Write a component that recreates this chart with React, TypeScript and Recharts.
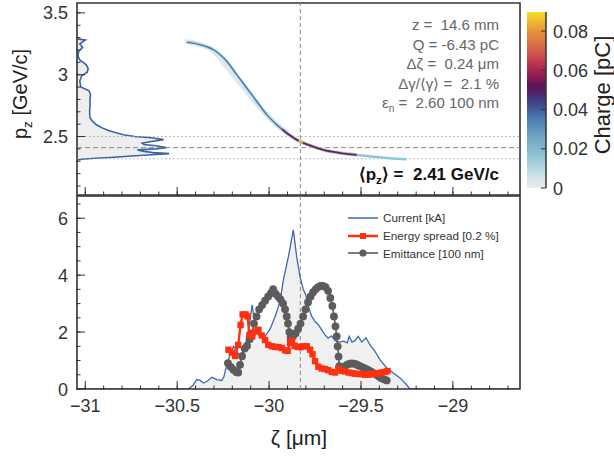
import React from 'react';
import { ComposedChart, Area, Line, XAxis, YAxis, ReferenceLine, ReferenceArea } from 'recharts';

// ---------- axis ranges ----------
const Z_MIN = -31.045;
const Z_MAX = -28.635;
const PZ_MIN = 2.027;
const PZ_MAX = 3.58;
const I_MAX = 6.78;
const Q_MAX = 0.0897;
const PROJ_MAX = 4.76;

// ---------- ticks ----------
const zTicks = [-31, -30.9, -30.8, -30.7, -30.6, -30.5, -30.4, -30.3, -30.2, -30.1, -30, -29.9, -29.8, -29.7, -29.6, -29.5, -29.4, -29.3, -29.2, -29.1, -29, -28.9, -28.8, -28.7];
const zMajor = [-31, -30.5, -30, -29.5, -29];
const pzTicks = [2.1, 2.2, 2.3, 2.4, 2.5, 2.6, 2.7, 2.8, 2.9, 3, 3.1, 3.2, 3.3, 3.4, 3.5];
const pzMajor = [2.5, 3, 3.5];
const iTicks = [0, 0.5, 1, 1.5, 2, 2.5, 3, 3.5, 4, 4.5, 5, 5.5, 6, 6.5];
const iMajor = [0, 2, 4, 6];
const qTicks = [0, 0.02, 0.04, 0.06, 0.08];

// ---------- markers ----------
const zMarker = -29.83;
const meanPz = 2.41;
const pzBandHigh = 2.5;
const pzBandLow = 2.32;

// ---------- top panel: longitudinal phase space ----------
const phaseHalo: [number, number][] = [
  [-30.46, 3.27], [-30.38, 3.245], [-30.31, 3.2], [-30.27, 3.14], [-30.24, 3.08], [-30.19, 2.99],
  [-30.13, 2.88], [-30.07, 2.77], [-30.01, 2.67], [-29.95, 2.585], [-29.9, 2.53],
];
const phaseUpper: [number, number][] = [
  [-30.447, 3.262], [-30.41, 3.255], [-30.375, 3.243], [-30.34, 3.227], [-30.303, 3.203], [-30.265, 3.16],
  [-30.23, 3.108], [-30.176, 3.0], [-30.121, 2.892], [-30.067, 2.784], [-30.012, 2.676], [-29.958, 2.595],
  [-29.904, 2.528], [-29.87, 2.495],
];
const phaseCore: [number, number][] = [
  [-29.93, 2.56], [-29.904, 2.528], [-29.849, 2.473], [-29.786, 2.432], [-29.705, 2.392], [-29.62, 2.368], [-29.523, 2.351],
];
const phaseHot: [number, number][] = [[-29.84, 2.466], [-29.815, 2.448]];
const phaseTail: [number, number][] = [[-29.523, 2.351], [-29.43, 2.336], [-29.342, 2.325], [-29.252, 2.317]];

// projection of p_z (normalised weight)
const projection: [number, number][] = [
  [3.29, 0.005], [3.28, 0.09], [3.25, 0.03], [3.22, 0.06], [3.19, 0.02], [3.15, 0.01], [3.12, 0.03],
  [3.08, 0.1], [3.05, 0.12], [3.02, 0.11], [2.99, 0.05], [2.95, 0.03], [2.9, 0.04], [2.87, 0.13],
  [2.84, 0.145], [2.8, 0.14], [2.75, 0.14], [2.7, 0.135], [2.65, 0.14], [2.62, 0.17], [2.595, 0.21],
  [2.57, 0.27], [2.55, 0.33], [2.53, 0.42], [2.514, 0.5], [2.5, 0.62], [2.49, 0.8], [2.475, 0.93],
  [2.46, 0.8], [2.446, 0.7], [2.435, 0.72], [2.425, 0.85], [2.41, 0.96], [2.4, 0.85], [2.392, 0.65],
  [2.38, 0.72], [2.37, 0.82], [2.362, 0.99], [2.352, 0.8], [2.34, 0.55], [2.332, 0.4], [2.322, 0.15],
  [2.316, 0.05], [2.31, 0],
];

// ---------- bottom panel ----------
const current: [number, number][] = [
  [-31.04, 0], [-30.44, 0], [-30.415, 0.12], [-30.393, 0.33], [-30.375, 0.3], [-30.357, 0.21], [-30.335, 0.28],
  [-30.311, 0.41], [-30.284, 0.33], [-30.257, 0.3], [-30.245, 0.45], [-30.23, 0.85], [-30.212, 1.2], [-30.194, 1.5],
  [-30.176, 1.35], [-30.158, 1.14], [-30.145, 1.3], [-30.13, 1.5], [-30.112, 2.08], [-30.092, 2.96], [-30.076, 2.2],
  [-30.058, 1.9], [-30.04, 1.96], [-30.022, 1.85], [-29.995, 2.1], [-29.967, 2.55], [-29.949, 2.9], [-29.935, 3.3],
  [-29.922, 3.84], [-29.895, 4.65], [-29.868, 5.59], [-29.85, 4.65], [-29.832, 3.95], [-29.814, 3.5], [-29.8, 3.3],
  [-29.786, 2.9], [-29.768, 2.55], [-29.75, 2.37], [-29.732, 2.26], [-29.714, 2.08], [-29.696, 1.9], [-29.679, 1.79],
  [-29.66, 1.87], [-29.641, 1.7], [-29.614, 1.65], [-29.595, 1.68], [-29.575, 1.62], [-29.564, 1.85], [-29.549, 1.65],
  [-29.533, 1.7], [-29.515, 1.85], [-29.496, 1.65], [-29.473, 1.8], [-29.451, 1.55], [-29.424, 1.32], [-29.397, 1.03],
  [-29.36, 0.74], [-29.324, 0.56], [-29.288, 0.39], [-29.252, 0.15], [-29.234, 0], [-28.636, 0],
];
const energySpread: [number, number][] = [
  [-30.221, 1.38], [-30.203, 1.28], [-30.185, 1.16], [-30.168, 1.55], [-30.155, 2.25], [-30.144, 2.62], [-30.128, 2.62],
  [-30.117, 2.55], [-30.107, 1.9], [-30.092, 1.85], [-30.076, 2.02], [-30.058, 2.08], [-30.04, 1.88], [-30.022, 1.72],
  [-30.004, 1.55], [-29.985, 1.5], [-29.967, 1.48], [-29.949, 1.47], [-29.931, 1.44], [-29.913, 1.36], [-29.899, 1.34],
  [-29.886, 1.62], [-29.875, 1.7], [-29.861, 1.52], [-29.845, 1.48], [-29.829, 1.47], [-29.813, 1.5], [-29.795, 1.5],
  [-29.777, 1.38], [-29.764, 1.22], [-29.75, 0.98], [-29.732, 0.78], [-29.714, 0.72], [-29.696, 0.7], [-29.678, 0.66],
  [-29.659, 0.6], [-29.641, 0.58], [-29.623, 0.7], [-29.605, 0.64], [-29.587, 0.62], [-29.569, 0.58], [-29.551, 0.56],
  [-29.533, 0.54], [-29.515, 0.53], [-29.496, 0.52], [-29.478, 0.5], [-29.46, 0.5], [-29.442, 0.52], [-29.424, 0.54],
  [-29.406, 0.55], [-29.388, 0.58], [-29.37, 0.6], [-29.356, 0.63],
];
const emittance: [number, number][] = [
  [-30.224, 0.91], [-30.209, 0.78], [-30.194, 0.68], [-30.179, 0.6], [-30.168, 0.58], [-30.158, 0.85], [-30.147, 1.15],
  [-30.133, 1.42], [-30.12, 1.52], [-30.106, 1.75], [-30.092, 1.95], [-30.082, 2.3], [-30.068, 2.55], [-30.054, 2.8],
  [-30.038, 2.95], [-30.022, 3.1], [-30.005, 3.25], [-29.989, 3.38], [-29.978, 3.51], [-29.965, 3.35], [-29.951, 3.25],
  [-29.938, 3.15], [-29.924, 3.0], [-29.913, 2.8], [-29.904, 2.55], [-29.897, 2.3], [-29.89, 2.0], [-29.883, 1.8],
  [-29.87, 1.85], [-29.856, 1.95], [-29.842, 2.12], [-29.829, 2.3], [-29.815, 2.55], [-29.802, 2.8], [-29.788, 3.05],
  [-29.774, 3.25], [-29.761, 3.4], [-29.747, 3.5], [-29.734, 3.58], [-29.72, 3.62], [-29.707, 3.62], [-29.693, 3.58],
  [-29.679, 3.45], [-29.667, 3.2], [-29.656, 2.92], [-29.647, 2.55], [-29.639, 2.2], [-29.632, 1.85], [-29.627, 1.5],
  [-29.622, 1.14], [-29.618, 0.8], [-29.606, 0.76], [-29.592, 0.78], [-29.579, 0.84], [-29.565, 0.88], [-29.552, 0.9],
  [-29.538, 0.89], [-29.524, 0.86], [-29.511, 0.82], [-29.497, 0.78], [-29.484, 0.74], [-29.47, 0.7], [-29.457, 0.65],
  [-29.443, 0.6], [-29.429, 0.55], [-29.416, 0.5], [-29.402, 0.44], [-29.389, 0.38], [-29.375, 0.34], [-29.36, 0.3],
];

// colour map of the charge bar (offset from bottom, colour)
const chargeStops: [number, string][] = [
  [0, '#ececec'], [0.08, '#c8e0e6'], [0.18, '#93c4d4'], [0.3, '#6aa2c4'], [0.4, '#4a78ac'], [0.47, '#3d4e92'],
  [0.53, '#4a2a72'], [0.58, '#5e1458'], [0.65, '#9a2050'], [0.72, '#c23a50'], [0.8, '#d86848'], [0.88, '#e48c3c'],
  [0.95, '#eebc30'], [1, '#f4e02a'],
];

const toZP = (a: [number, number][]) => a.map(([z, pz]) => ({ z, pz }));
const toZV = (a: [number, number][]) => a.map(([z, v]) => ({ z, v }));

const FONT = '"Liberation Sans", Arial, Helvetica, sans-serif';
const AX = '#333';
const W = 614;
const MAJ = 8;
const MIN = 4.5;

const fmt = (v: number) => (v < 0 ? '\u2212' + String(Math.abs(v)) : String(v));

const noLabel = () => <g />;
const bottomLabel = (props: any) => (
  <text x={props.x} y={props.y + 23} textAnchor="middle" fontSize={18} fill="#333" fontFamily={FONT}>
    {fmt(props.payload.value)}
  </text>
);
const leftLabel = (props: any) => (
  <text x={props.x - 9} y={props.y + 6.5} textAnchor="end" fontSize={18} fill="#333" fontFamily={FONT}>
    {fmt(props.payload.value)}
  </text>
);
const rightLabel = (props: any) => (
  <text x={props.x + 7} y={props.y + 6.5} textAnchor="start" fontSize={18} fill="#333" fontFamily={FONT}>
    {String(props.payload.value)}
  </text>
);

const SquareDot = (p: any) => {
  if (p.cx == null || p.cy == null) return <g key={`s${p.index}`} />;
  return <rect key={`s${p.index}`} x={p.cx - 3.2} y={p.cy - 3.2} width={6.4} height={6.4} fill="#ff3010" />;
};
const CircleDot = (p: any) => {
  if (p.cx == null || p.cy == null) return <g key={`c${p.index}`} />;
  return <circle key={`c${p.index}`} cx={p.cx} cy={p.cy} r={3.9} fill="#5c5c5c" />;
};

const abs = (left: number, top: number): React.CSSProperties => ({ position: 'absolute', left, top });
const tl = { stroke: AX, strokeWidth: 1 };

export default function App() {
  // two 1-px axes per side (major + minor ticks) are taken from the margins so plot edges stay at 77/520
  const topMargin = { top: 3, right: W - 520, bottom: 3, left: 75 };
  const projMargin = { top: 3, right: W - 520, bottom: 5, left: 77 };
  const botMargin = { top: 196, right: W - 520, bottom: 457 - 389 - 2, left: 75 };
  const subStyle: React.CSSProperties = { fontSize: '0.68em', position: 'relative', top: '0.35em' };

  return (
    <div style={{ position: 'absolute', left: 0, top: 0, width: W, height: 457, background: '#fff', fontFamily: FONT, overflow: 'hidden' }}>
      <svg width={0} height={0} style={{ position: 'absolute' }}>
        <defs>
          <linearGradient id="chargeGrad" x1="0" y1="1" x2="0" y2="0">
            {chargeStops.map(([o, c]) => (
              <stop key={o} offset={o} stopColor={c} />
            ))}
          </linearGradient>
        </defs>
      </svg>

      {/* p_z projection (vertical layout) */}
      <div style={abs(0, 0)}>
        <ComposedChart layout="vertical" width={W} height={200} margin={projMargin} data={projection.map(([pz, w]) => ({ pz, w }))}>
          <XAxis type="number" domain={[0, PROJ_MAX]} allowDataOverflow hide />
          <YAxis type="number" dataKey="pz" domain={[PZ_MIN, PZ_MAX]} allowDataOverflow reversed hide />
          <Area type="linear" dataKey="w" baseValue="dataMin" fill="#eeeeee" fillOpacity={1} stroke="#3b64a2" strokeWidth={1.6} isAnimationActive={false} dot={false} activeDot={false} />
        </ComposedChart>
      </div>

      {/* top panel main */}
      <div style={abs(0, 0)}>
        <ComposedChart width={W} height={200} margin={topMargin}>
          <XAxis type="number" dataKey="z" domain={[Z_MIN, Z_MAX]} allowDataOverflow ticks={zMajor} interval={0}
            tick={noLabel} tickLine={tl} axisLine={false} tickSize={-MAJ} tickMargin={MAJ} height={1} />
          <XAxis xAxisId="m" type="number" dataKey="z" domain={[Z_MIN, Z_MAX]} allowDataOverflow ticks={zTicks} interval={0}
            tick={noLabel} tickLine={tl} axisLine={false} tickSize={-MIN} tickMargin={MIN} height={1} />
          <YAxis type="number" domain={[PZ_MIN, PZ_MAX]} allowDataOverflow ticks={pzMajor} interval={0}
            tick={leftLabel} tickLine={tl} axisLine={false} tickSize={-MAJ} tickMargin={MAJ} width={1} />
          <YAxis yAxisId="m" type="number" domain={[PZ_MIN, PZ_MAX]} allowDataOverflow ticks={pzTicks} interval={0}
            tick={noLabel} tickLine={tl} axisLine={false} tickSize={-MIN} tickMargin={MIN} width={1} />
          <ReferenceLine y={pzBandHigh} stroke="#aaa" strokeDasharray="1.5 2.5" strokeWidth={1} />
          <ReferenceLine y={pzBandLow} stroke="#aaa" strokeDasharray="1.5 2.5" strokeWidth={1} />
          <ReferenceLine y={meanPz} yAxisId="m" stroke="#888" strokeDasharray="5 3" strokeWidth={1} />
          <ReferenceLine x={zMarker} xAxisId="m" stroke="#888" strokeDasharray="4 3" strokeWidth={1} />
          <Line data={toZP(phaseHalo)} dataKey="pz" type="monotone" stroke="#e6e6e6" strokeWidth={5} dot={false} activeDot={false} isAnimationActive={false} />
          <Line data={toZP(phaseUpper)} dataKey="pz" type="monotone" stroke="#a6d7e6" strokeWidth={3} dot={false} activeDot={false} isAnimationActive={false} />
          <Line data={toZP(phaseUpper)} dataKey="pz" type="monotone" stroke="#3a6aa8" strokeWidth={1.1} dot={false} activeDot={false} isAnimationActive={false} />
          <Line data={toZP(phaseTail)} dataKey="pz" type="monotone" stroke="#8cc8dc" strokeWidth={2.5} dot={false} activeDot={false} isAnimationActive={false} />
          <Line data={toZP(phaseCore)} dataKey="pz" type="monotone" stroke="#9fd2e2" strokeWidth={3.5} dot={false} activeDot={false} isAnimationActive={false} />
          <Line data={toZP(phaseCore)} dataKey="pz" type="monotone" stroke="#7a1a52" strokeWidth={1.8} dot={false} activeDot={false} isAnimationActive={false} />
          <Line data={toZP(phaseHot)} dataKey="pz" type="linear" stroke="#e6c232" strokeWidth={2} dot={false} activeDot={false} isAnimationActive={false} />
          <ReferenceArea x1={Z_MIN} x2={Z_MAX} y1={PZ_MIN} y2={PZ_MAX} fill="none" stroke={AX} strokeWidth={1.6} />
        </ComposedChart>
      </div>

      {/* colour bar */}
      <div style={abs(0, 0)}>
        <ComposedChart width={W} height={200} margin={{ top: 12, right: W - 547, bottom: 12, left: 527 }}
          data={qTicks.map((q) => ({ x: 0.5, q }))}>
          <XAxis type="number" dataKey="x" domain={[0, 1]} allowDataOverflow hide />
          <YAxis type="number" orientation="right" domain={[0, Q_MAX]} allowDataOverflow ticks={qTicks} interval={0}
            tick={rightLabel} tickLine={tl} axisLine={{ stroke: AX, strokeWidth: 1.5 }} tickSize={-5} tickMargin={5} width={1} />
          <ReferenceArea y1={0} y2={Q_MAX} fill="url(#chargeGrad)" fillOpacity={1} stroke="none" ifOverflow="visible" />
          <Line dataKey="q" stroke="none" dot={false} activeDot={false} isAnimationActive={false} />
        </ComposedChart>
      </div>

      {/* bottom panel */}
      <div style={abs(0, 0)}>
        <ComposedChart width={W} height={457} margin={botMargin}>
          <XAxis type="number" dataKey="z" domain={[Z_MIN, Z_MAX]} allowDataOverflow ticks={zMajor} interval={0}
            tick={bottomLabel} tickLine={tl} axisLine={false} tickSize={-MAJ} tickMargin={MAJ} height={1} />
          <XAxis xAxisId="m" type="number" dataKey="z" domain={[Z_MIN, Z_MAX]} allowDataOverflow ticks={zTicks} interval={0}
            tick={noLabel} tickLine={tl} axisLine={false} tickSize={-MIN} tickMargin={MIN} height={1} />
          <YAxis type="number" domain={[0, I_MAX]} allowDataOverflow ticks={iMajor} interval={0}
            tick={leftLabel} tickLine={tl} axisLine={false} tickSize={-MAJ} tickMargin={MAJ} width={1} />
          <YAxis yAxisId="m" type="number" domain={[0, I_MAX]} allowDataOverflow ticks={iTicks} interval={0}
            tick={noLabel} tickLine={tl} axisLine={false} tickSize={-MIN} tickMargin={MIN} width={1} />
          <Area data={toZV(current)} dataKey="v" type="linear" fill="#f0f0f0" fillOpacity={1} stroke="#3d6aa8" strokeWidth={1.3} dot={false} activeDot={false} isAnimationActive={false} />
          <ReferenceLine x={zMarker} xAxisId="m" yAxisId="m" stroke="#888" strokeDasharray="4 3" strokeWidth={1} />
          <Line data={toZV(emittance)} dataKey="v" type="linear" stroke="#5c5c5c" strokeWidth={1.6} dot={CircleDot} activeDot={false} isAnimationActive={false} />
          <Line data={toZV(energySpread)} dataKey="v" type="linear" stroke="#ff3010" strokeWidth={2.4} dot={SquareDot} activeDot={false} isAnimationActive={false} />
          <ReferenceArea x1={Z_MIN} x2={Z_MAX} y1={0} y2={I_MAX} fill="none" stroke={AX} strokeWidth={1.6} />
        </ComposedChart>
      </div>

      {/* annotations */}
      <div style={{ position: 'absolute', right: W - 499, top: 15, textAlign: 'right', fontSize: 15, lineHeight: '19.5px', color: '#666', whiteSpace: 'pre' }}>
        <div>z =  14.6 mm</div>
        <div>Q = -6.43 pC</div>
        <div>Δζ =  0.24 μm</div>
        <div>Δγ/⟨γ⟩ =  2.1 %</div>
        <div>ε<span style={subStyle}>n</span> =  2.60 100 nm</div>
      </div>
      <div style={{ position: 'absolute', right: W - 499, top: 164, fontSize: 17, fontWeight: 'bold', color: '#111', whiteSpace: 'pre', lineHeight: '22px' }}>
        ⟨p<span style={subStyle}>z</span>⟩ =  2.41 GeV/c
      </div>

      {/* axis titles */}
      <div style={{ position: 'absolute', left: 20, top: 94, transform: 'translate(-50%, -50%) rotate(-90deg)', fontSize: 20, color: '#222', whiteSpace: 'nowrap' }}>
        p<span style={subStyle}>z</span> [GeV/c]
      </div>
      <div style={{ position: 'absolute', left: 299, top: 438, transform: 'translate(-50%, -50%)', fontSize: 21, color: '#222', whiteSpace: 'nowrap' }}>
        ζ [μm]
      </div>
      <div style={{ position: 'absolute', left: 603, top: 95, transform: 'translate(-50%, -50%) rotate(-90deg)', fontSize: 22, color: '#222', whiteSpace: 'nowrap' }}>
        Charge [pC]
      </div>

      {/* legend */}
      <div style={{ position: 'absolute', left: 348, top: 209, fontSize: 11.7, color: '#333' }}>
        {[
          { label: 'Current [kA]', color: '#3d6aa8', w: 1.5, mark: 'none' },
          { label: 'Energy spread [0.2 %]', color: '#ff3010', w: 2.5, mark: 'square' },
          { label: 'Emittance [100 nm]', color: '#5c5c5c', w: 1.6, mark: 'circle' },
        ].map((r) => (
          <div key={r.label} style={{ display: 'flex', alignItems: 'center', height: 17.8, whiteSpace: 'nowrap' }}>
            <svg width={30} height={10} style={{ display: 'block' }}>
              <line x1={0} x2={30} y1={5} y2={5} stroke={r.color} strokeWidth={r.w} />
              {r.mark === 'square' ? <rect x={12} y={2} width={6} height={6} fill={r.color} /> : null}
              {r.mark === 'circle' ? <circle cx={15} cy={5} r={3.6} fill={r.color} /> : null}
            </svg>
            <span style={{ marginLeft: 5 }}>{r.label}</span>
          </div>
        ))}
      </div>
    </div>
  );
}
